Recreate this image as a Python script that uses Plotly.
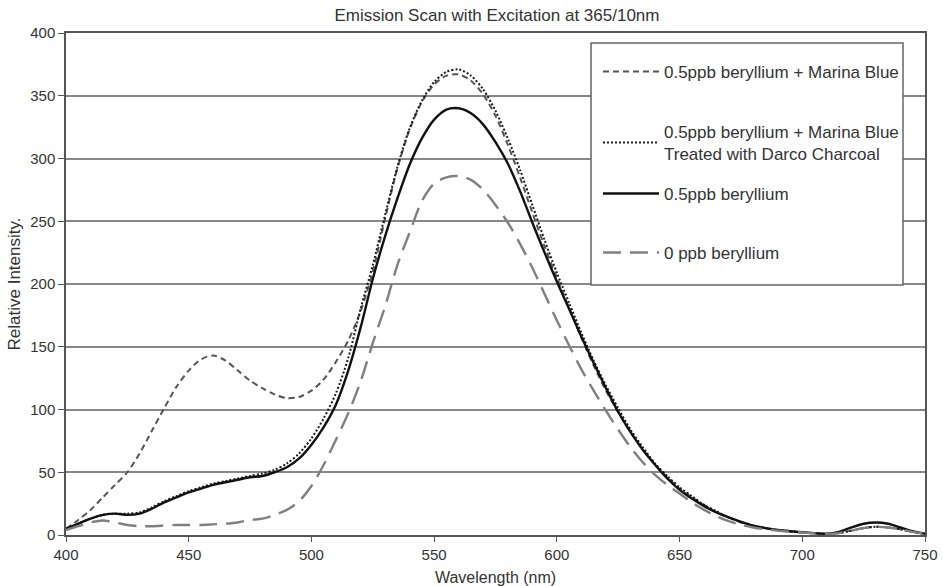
import plotly.graph_objects as go

wavelength = list(range(400, 755, 5))

marina_blue = [5, 12, 20, 30, 40, 50, 65, 83, 101, 118, 131, 140, 143, 139, 131, 123, 117, 112, 109, 110,
               115, 124, 138, 155, 178, 210, 252, 292, 323, 345, 359, 366, 367, 362, 351, 334, 311, 285, 257, 230,
               205, 181, 157, 135, 115, 98, 82, 68, 56, 46, 37, 30, 24, 18, 14, 10, 7.5, 5.5, 4, 3,
               2, 1.3, 1, 1.5, 3.5, 5.5, 6.5, 6, 4.5, 2.5, 1]

treated = [5, 9, 13, 16, 17, 17, 18, 22, 27, 31, 35, 38, 41, 43, 45, 47, 49, 52, 57, 65,
           77, 93, 113, 141, 180, 215, 255, 293, 324, 346, 361, 369, 371, 366, 355, 338, 316, 291, 263, 235,
           209, 185, 161, 139, 119, 101, 84, 70, 57, 47, 38, 31, 24, 19, 14, 10.5, 7.5, 5.5, 4, 3,
           2, 1.3, 1, 1.5, 3.5, 5.5, 6.5, 6, 4.5, 2.5, 1]

be_05 = [5, 9, 13, 16, 17, 16, 17, 21, 26, 30, 34, 37, 40, 42, 44, 46, 47, 50, 54, 61,
         72, 86, 104, 131, 165, 204, 238, 268, 295, 316, 331, 339, 340, 336, 327, 313, 296, 274, 249, 225,
         202, 180, 158, 137, 117, 98, 82, 68, 56, 45, 36, 29, 23, 18, 14, 10.5, 7.5, 5.5, 4, 3,
         2.2, 1.5, 1, 2.5, 6, 9, 10, 9, 6, 3, 1]

be_0 = [4, 7, 10, 11.5, 10, 8, 7, 7, 7.5, 8, 8, 8, 8.5, 9, 10, 12, 13, 16, 20, 27,
        39, 56, 76, 97, 122, 153, 182, 215, 241, 266, 280, 285, 286, 283, 275, 263, 249, 232, 213, 192,
        171, 151, 132, 115, 99, 84, 70, 58, 48, 40, 33, 26, 20, 15, 11, 8, 6, 4.5, 3.5, 2.5,
        2, 1.3, 1, 1.5, 3.5, 5.5, 6.5, 6, 4.5, 2.5, 1]

names = ["0.5ppb beryllium + Marina Blue",
         "0.5ppb beryllium + Marina Blue<br>Treated with Darco Charcoal",
         "0.5ppb beryllium",
         "0 ppb beryllium"]

FONT = "Liberation Sans, Arial, sans-serif"

fig = go.Figure()
styles = [
    (marina_blue, dict(color="#555555", width=2, dash="6px,4px")),
    (treated, dict(color="#1a1a1a", width=2, dash="2px,2px")),
    (be_05, dict(color="#111111", width=2.4)),
    (be_0, dict(color="#808080", width=2.4, dash="18px,9px")),
]
legend_ids = ["legend", "legend2", "legend3", "legend4"]
for i, (ys, line) in enumerate(styles):
    fig.add_trace(go.Scatter(x=wavelength, y=ys, mode="lines", name=names[i],
                             line=dict(shape="spline", smoothing=0.8, **line),
                             legend=legend_ids[i]))

legend_centers = [0.9223, 0.7809, 0.6793, 0.5618]
common_leg = dict(x=0.6193, xanchor="left", yanchor="middle", bgcolor="rgba(0,0,0,0)",
                  borderwidth=0, font=dict(size=17, color="#333333"), itemwidth=56,
                  valign="middle")
leg_layout = {}
for lid, yc in zip(legend_ids, legend_centers):
    leg_layout[lid] = dict(y=yc, **common_leg)

fig.update_layout(
    width=943, height=586,
    margin=dict(l=66, r=18, t=33, b=51, autoexpand=False),
    paper_bgcolor="white", plot_bgcolor="white",
    font=dict(family=FONT, size=15, color="#333333"),
    title=dict(text="Emission Scan with Excitation at 365/10nm", x=0.527, xanchor="center",
               y=0.975, yanchor="middle", font=dict(size=17, color="#333333")),
    showlegend=True,
    shapes=[dict(type="rect", xref="paper", yref="paper", x0=0.6112, x1=0.9744, y0=0.498, y1=0.980,
                 fillcolor="white", line=dict(color="#666666", width=1.5), layer="above")],
    **leg_layout,
)
fig.update_xaxes(range=[400, 750], tickvals=[400, 450, 500, 550, 600, 650, 700, 750],
                 showgrid=False, zeroline=False, showline=True, linecolor="#555555", linewidth=1.5,
                 mirror=True, ticks="outside", ticklen=5, tickcolor="#555555", automargin=False,
                 title=dict(text="Wavelength (nm)", standoff=10, font=dict(size=16)))
fig.update_yaxes(range=[0, 400], tickvals=list(range(0, 401, 50)),
                 showgrid=True, gridcolor="#888888", gridwidth=1.5, zeroline=False,
                 showline=True, linecolor="#555555", linewidth=1.5, mirror=True,
                 ticks="outside", ticklen=6, tickcolor="#555555", automargin=False,
                 title=dict(text="Relative Intensity.", standoff=5, font=dict(size=17)))

fig.write_html("out.html")
